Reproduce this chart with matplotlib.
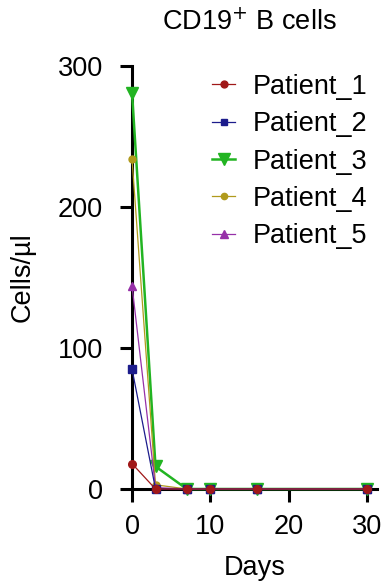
import matplotlib
matplotlib.use("Agg")
from matplotlib import pyplot as plt

plt.rcParams['font.family'] = ['Liberation Sans', 'DejaVu Sans']

days = [0, 3, 7, 10, 16, 30]
patient_1 = [18, 0, 0, 0, 0, 0]
patient_2 = [85, 0, 0, 0, 0, 0]
patient_3 = [281, 16, 0, 0, 0, 0]
patient_4 = [234, 3, 0, 0, 0, 0]
patient_5 = [144, 1, 0, 0, 0, 0]

names = ["Patient_1", "Patient_2", "Patient_3", "Patient_4", "Patient_5"]
series = [patient_1, patient_2, patient_3, patient_4, patient_5]
colors = ["#a01818", "#1c1c8c", "#22b422", "#b09a1c", "#9630a8"]
markers = ["o", "s", "v", "o", "^"]
sizes = [5.5, 5.5, 9, 5, 6]
widths = [0.9, 0.9, 1.8, 0.9, 0.9]
zorders = [10, 8, 5, 6, 7]

fig = plt.figure(figsize=(3.85, 5.86), dpi=100)
ax = fig.add_axes([0.343, 0.1655, 0.636, 0.7215])

for name, vals, c, m, s, w, z in zip(names, series, colors, markers, sizes, widths, zorders):
    ax.plot(days, vals, color=c, marker=m, markersize=s, linewidth=w,
            label=name, zorder=z, clip_on=False)

ax.set_xlim(0, 31.3)
ax.set_ylim(0, 300)
ax.set_xticks([0, 10, 20, 30])
ax.set_yticks([0, 100, 200, 300])
for side in ["top", "right"]:
    ax.spines[side].set_visible(False)
for side in ["left", "bottom"]:
    ax.spines[side].set_linewidth(2.2)
ax.tick_params(width=2.2, length=9, labelsize=19.5)
ax.tick_params(axis="y", pad=12)
ax.tick_params(axis="x", pad=9)

ax.set_xlabel("Days", fontsize=19.5, labelpad=11)
ax.set_ylabel("Cells/\u00b5l", fontsize=19.5, labelpad=16)
ax.set_title("CD19$^{+}$ B cells", fontsize=19.5, pad=26, x=0.48)

leg = ax.legend(loc="upper left", bbox_to_anchor=(0.551, 0.874),
                bbox_transform=fig.transFigure, frameon=False,
                fontsize=19.5, handlelength=0.85, handletextpad=0.65,
                labelspacing=0.42, borderpad=0, borderaxespad=0, markerscale=0.9)

fig.savefig("out.png", dpi=100)
